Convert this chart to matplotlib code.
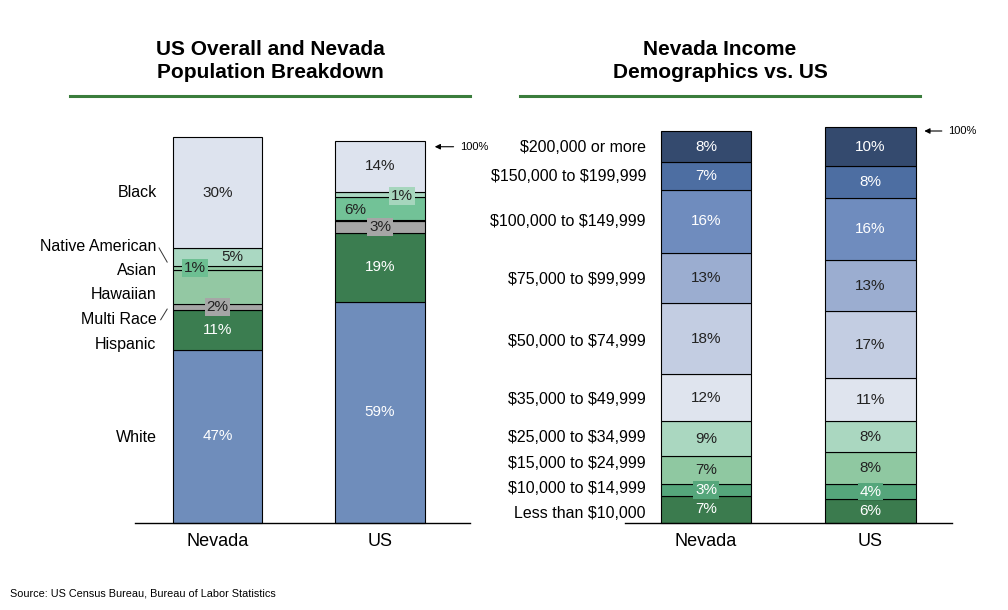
import matplotlib.pyplot as plt
from matplotlib.lines import Line2D
import numpy as np

plt.rcParams['font.family'] = ['Liberation Sans', 'DejaVu Sans']
plt.rcParams['text.parse_math'] = False

# ---- population breakdown (segment heights as drawn, bottom to top) ----
pop_bars = ['Nevada', 'US']
pop_groups = ['White', 'Hispanic', 'Multi Race', 'Hawaiian', 'Asian', 'Native American', 'Black']
nevada_pop = [45.3, 10.5, 1.6, 8.9, 1.0, 4.7, 29.0]
us_pop = [57.9, 18.1, 3.1, 0.3, 6.0, 1.3, 13.3]
nevada_pop_lbl = ['47%', '11%', '2%', '', '1%', '5%', '30%']
us_pop_lbl = ['59%', '19%', '3%', '', '6%', '1%', '14%']

# ---- income demographics (bottom to top) ----
income_bars = ['Nevada', 'US']
income_groups = ['Less than $10,000', '$10,000 to $14,999', '$15,000 to $24,999',
                 '$25,000 to $34,999', '$35,000 to $49,999', '$50,000 to $74,999',
                 '$75,000 to $99,999', '$100,000 to $149,999', '$150,000 to $199,999',
                 '$200,000 or more']
nevada_income = [7, 3, 7, 9, 12, 18, 13, 16, 7, 8]
us_income = [6, 4, 8, 8, 11, 17, 13, 16, 8, 10]

W, H = 1008, 610
fig = plt.figure(figsize=(W / 100, H / 100), dpi=100)


def px_axes(x0, x1, base, top):
    # pixel box (top-left origin) -> figure axes
    return fig.add_axes([x0 / W, (H - base) / H, (x1 - x0) / W, (base - top) / H])


def style_axes(ax, xlim, names):
    ax.set_xlim(*xlim)
    ax.set_ylim(0, 105)
    for s in ['top', 'left', 'right']:
        ax.spines[s].set_visible(False)
    ax.spines['bottom'].set_linewidth(1.0)
    ax.set_yticks([])
    ax.set_xticks(range(len(names)))
    ax.set_xticklabels(names, fontsize=13)
    ax.tick_params(axis='x', length=0, pad=7)
    ax.patch.set_alpha(0)


def stack(ax, xpos, vals, colors, width=0.55):
    bottoms = np.concatenate([[0], np.cumsum(vals)[:-1]])
    ax.bar(xpos, vals, bottom=bottoms, width=width, color=colors,
           edgecolor='black', linewidth=0.8, clip_on=False)
    return bottoms


# ================= left chart =================
axL = px_axes(135, 470, 523, 523 - 105 * 3.82)
style_axes(axL, (-0.508, 1.554), pop_bars)

nv_colors = ['#6f8dbb', '#3b7d50', '#a6a6a6', '#93c8a3', '#93c8a3', '#aad8c2', '#dde3ee']
us_colors = ['#6f8dbb', '#3b7d50', '#a6a6a6', '#000000', '#72c297', '#aad8c2', '#dde3ee']
nv_bot = stack(axL, 0, nevada_pop, nv_colors)
us_bot = stack(axL, 1, us_pop, us_colors)

# value labels: (x offset, box colour, text colour)
nv_style = [(0, None, 'white'), (0, None, 'white'), (0, '#a6a6a6', '#222222'), None,
            (-0.14, '#6dbf92', '#222222'), (0.09, None, '#222222'), (0, None, '#222222')]
us_style = [(0, None, 'white'), (0, None, 'white'), (0, '#a6a6a6', '#222222'), None,
            (-0.15, None, '#222222'), (0.135, '#a6d6bd', '#222222'), (0, None, '#222222')]
nv_dy = [0, 0, 0, 0, 0, 0, 0]
us_dy = [0, 0, 0, 0, -0.5, -0.4, 0]
for xpos, bot, vals, lbls, sty, dys in [(0, nv_bot, nevada_pop, nevada_pop_lbl, nv_style, nv_dy),
                                        (1, us_bot, us_pop, us_pop_lbl, us_style, us_dy)]:
    for b, v, t, s, dy in zip(bot, vals, lbls, sty, dys):
        if not t:
            continue
        dx, box, tc = s
        bbox = dict(boxstyle='square,pad=0.12', fc=box, ec='none') if box else None
        axL.text(xpos + dx, b + v / 2 + dy, t, ha='center', va='center',
                 fontsize=11, color=tc, bbox=bbox, zorder=5)

# category labels on the left side
pop_lbl_y = [22.3, 46.6, 53.4, 59.7, 66.2, 72.5, 86.4]
for name, y in zip(pop_groups, pop_lbl_y):
    axL.text(-0.375, y, name, ha='right', va='center', fontsize=11.5)
axL.add_line(Line2D([-0.36, -0.31], [72.0, 68.3], color='#333333', lw=0.7, clip_on=False))
axL.add_line(Line2D([-0.35, -0.31], [53.2, 56.0], color='#333333', lw=0.7, clip_on=False))

# 100% marker
axL.annotate('', xy=(1.32, 98.5), xytext=(1.47, 98.5),
             arrowprops=dict(arrowstyle='-|>', color='black', lw=0.8, mutation_scale=8),
             annotation_clip=False)
axL.text(1.49, 98.5, '100%', ha='left', va='center', fontsize=8)

# ================= right chart =================
axR = px_axes(625, 952, 523, 523 - 105 * 3.92)
style_axes(axR, (-0.492, 1.495), income_bars)

inc_colors = ['#3b7b4e', '#55a67b', '#8fc8a1', '#aad7c0', '#dfe4ee',
              '#c3cde2', '#9badd0', '#6f8cbe', '#4d6ea2', '#344a6e']
inc_text = ['white', 'white', '#222222', '#222222', '#222222',
            '#222222', '#222222', 'white', 'white', 'white']
for xpos, vals in [(0, nevada_income), (1, us_income)]:
    bot = stack(axR, xpos, vals, inc_colors)
    for i, (b, v) in enumerate(zip(bot, vals)):
        bbox = dict(boxstyle='square,pad=0.12', fc='#55a67b', ec='none') if i == 1 else None
        axR.text(xpos, b + v / 2, f'{v}%', ha='center', va='center', fontsize=11,
                 color=inc_text[i], bbox=bbox, zorder=5)

# row label heights (in % of the axis) as placed in the original
income_lbl_y = [2.3, 8.7, 15.1, 21.7, 31.6, 46.4, 62.0, 77.0, 88.5, 95.9]
for name, y in zip(income_groups, income_lbl_y):
    axR.text(-0.365, y, name, ha='right', va='center', fontsize=11.5)

axR.annotate('', xy=(1.31, 100), xytext=(1.45, 100),
             arrowprops=dict(arrowstyle='-|>', color='black', lw=0.8, mutation_scale=8),
             annotation_clip=False)
axR.text(1.47, 100, '100%', ha='left', va='center', fontsize=8)

# ================= titles, rules, source =================
fig.text(270 / W, 1 - 61 / H, 'US Overall and Nevada\nPopulation Breakdown', ha='center',
         va='center', fontsize=15, fontweight='bold', linespacing=1.25)
fig.text(720 / W, 1 - 61 / H, 'Nevada Income\nDemographics vs. US', ha='center',
         va='center', fontsize=15, fontweight='bold', linespacing=1.25)
for x0, x1 in [(70, 470), (520, 920)]:
    fig.add_artist(Line2D([x0 / W, x1 / W], [1 - 96 / H, 1 - 96 / H],
                          color='#3a7d3c', lw=2.2))
fig.text(10 / W, 1 - 593 / H, 'Source: US Census Bureau, Bureau of Labor Statistics',
         ha='left', va='center', fontsize=7.8)

fig.savefig('out.png', dpi=100)
